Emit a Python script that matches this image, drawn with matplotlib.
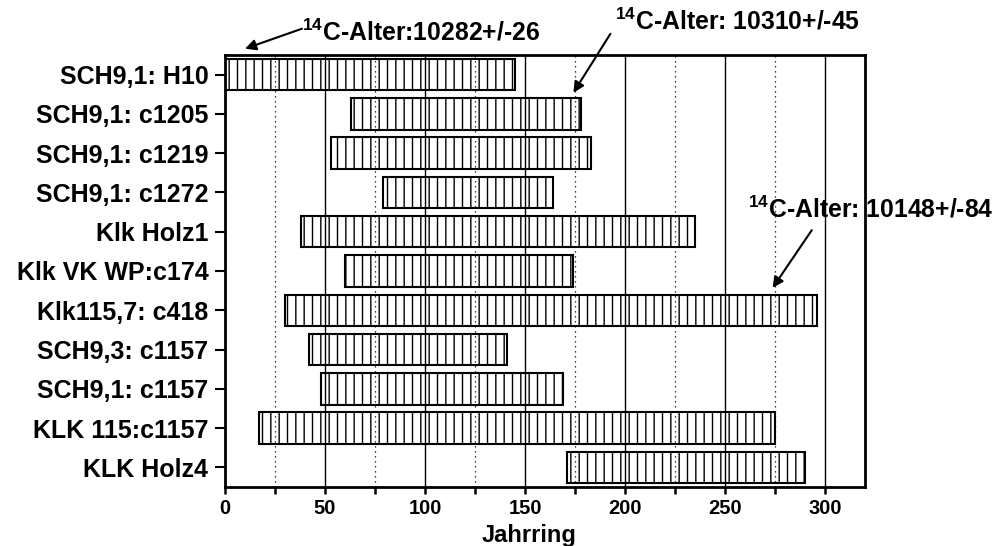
import matplotlib
matplotlib.use("Agg")
import matplotlib.pyplot as plt
import numpy as np

labels = ["SCH9,1: H10", "SCH9,1: c1205", "SCH9,1: c1219", "SCH9,1: c1272",
          "Klk Holz1", "Klk VK WP:c174", "Klk115,7: c418", "SCH9,3: c1157",
          "SCH9,1: c1157", "KLK 115:c1157", "KLK Holz4"]
starts = [0, 63, 53, 79, 38, 60, 30, 42, 48, 17, 171]
ends = [145, 178, 183, 164, 235, 174, 296, 141, 169, 275, 290]

ann_texts = ["$^{14}$C-Alter:10282+/-26", "$^{14}$C-Alter: 10310+/-45", "$^{14}$C-Alter: 10148+/-84"]
ann_text_xy = [(38.5, -0.86), (195.2, -1.14), (261.3, 3.65)]
ann_tail = [(38.5, -1.17), (192.7, -1.04), (293.4, 3.96)]
ann_head = [(10, -0.66), (174.2, 0.46), (273.8, 5.43)]

plt.rcParams['font.family'] = ['Liberation Sans', 'DejaVu Sans']
plt.rcParams['font.weight'] = 'bold'
plt.rcParams['mathtext.fontset'] = 'custom'
plt.rcParams['mathtext.rm'] = 'Liberation Sans:bold'
plt.rcParams['mathtext.it'] = 'Liberation Sans:bold'
plt.rcParams['mathtext.bf'] = 'Liberation Sans:bold'
plt.rcParams['mathtext.default'] = 'rm'
plt.rcParams['hatch.linewidth'] = 1.0

fig = plt.figure(figsize=(9.98, 5.46), dpi=100)
ax = fig.add_axes([225/998, 59/546, 640/998, 432/546])

y = np.arange(len(labels))
widths = [e - s for s, e in zip(starts, ends)]
ax.barh(y, widths, left=starts, height=0.8, facecolor='none',
        edgecolor='black', hatch='||', linewidth=1.5, zorder=3)

ax.set_xlim(0, 320)
ax.set_ylim(10.5, -0.5)
ax.set_xticks(np.arange(0, 301, 50))
ax.set_xticks(np.arange(25, 300, 50), minor=True)
ax.set_yticks(y)
ax.set_yticklabels(labels, fontsize=18, fontweight='bold')
for lab in ax.get_xticklabels():
    lab.set_fontsize(14.5)
    lab.set_fontweight('bold')

ax.grid(which='major', axis='x', color='black', linewidth=1.0, linestyle='-', zorder=1)
ax.grid(which='minor', axis='x', color='black', linewidth=0.9, linestyle=(0, (1, 3)), zorder=1)
ax.set_axisbelow(True)

for sp in ax.spines.values():
    sp.set_linewidth(2)
ax.tick_params(axis='y', length=7, width=1.5, pad=5)
ax.tick_params(axis='x', which='both', length=5, width=1.8, pad=4)

ax.set_xlabel("Jahrring", fontsize=17, fontweight='bold', labelpad=0)
ax.xaxis.set_label_coords(0.475, -0.085)

for t, txy, tail, head in zip(ann_texts, ann_text_xy, ann_tail, ann_head):
    ax.text(txy[0], txy[1], t, fontsize=17.8, fontweight='bold', ha='left', va='baseline',
            clip_on=False)
    ax.annotate('', xy=head, xytext=tail, annotation_clip=False,
                arrowprops=dict(arrowstyle='-|>', color='black', lw=1.5,
                                mutation_scale=16, shrinkA=0, shrinkB=0))

fig.savefig("out.png", dpi=100)
